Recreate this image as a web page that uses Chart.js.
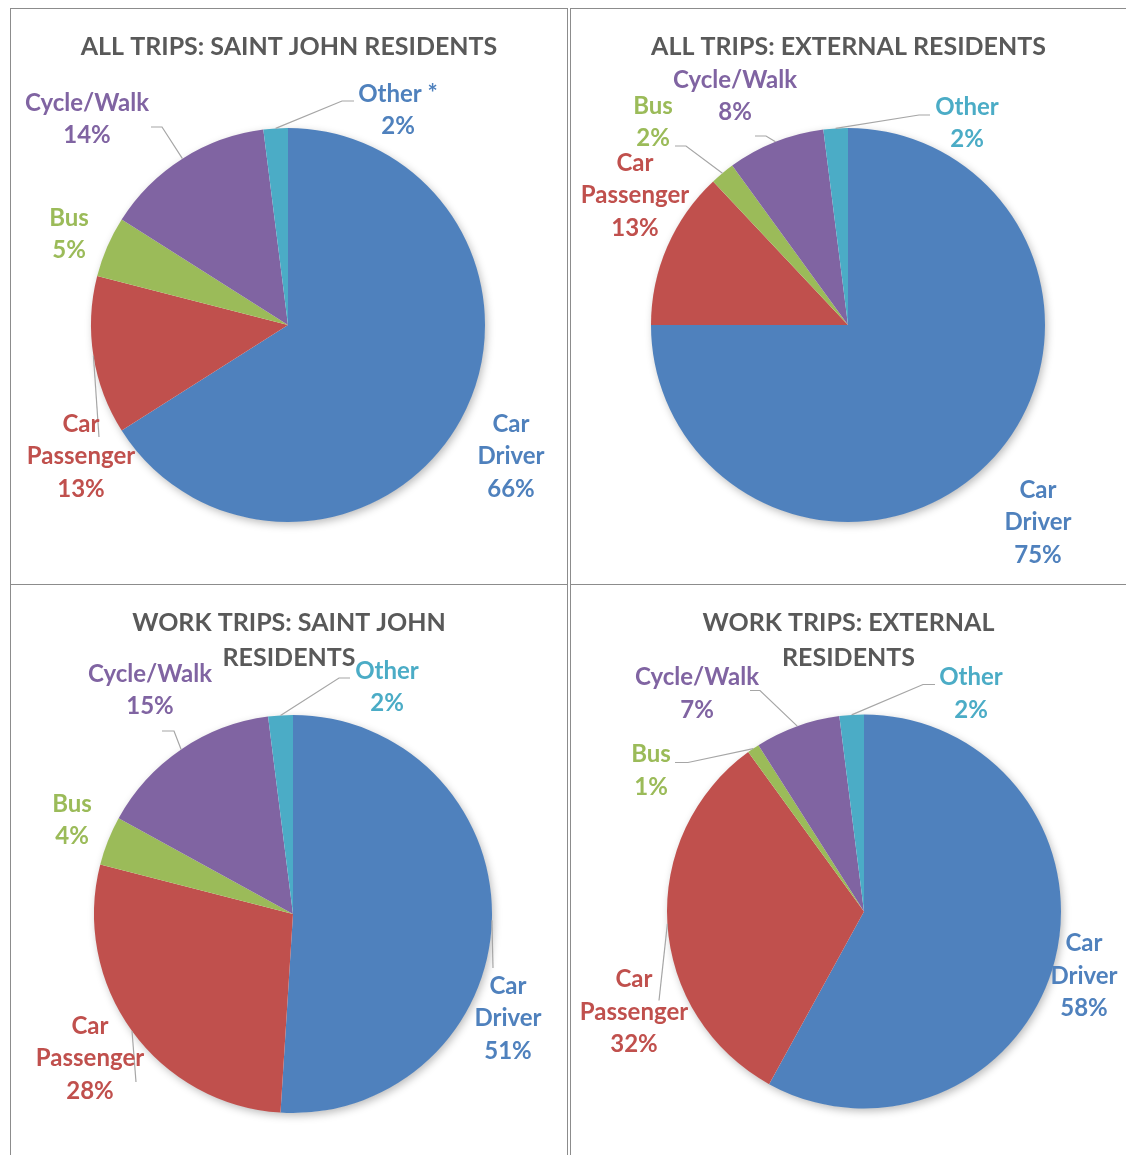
<!DOCTYPE html>
<html>
<head>
<meta charset="utf-8">
<title>Trip mode share</title>
<script src="https://cdn.jsdelivr.net/npm/chart.js@4.4.1/dist/chart.umd.min.js"></script>
<style>
  body { margin: 0; background: #fff; width: 1126px; height: 1155px; overflow: hidden; position: relative; }
  .panel { position: absolute; box-sizing: border-box; border: 1px solid #8c8c8c; background: #fff; }
  .panel canvas { display: block; }
</style>
</head>
<body>
<div class="panel" style="left:10px;top:8px;width:558px;height:577px"><canvas id="c0" width="556" height="575"></canvas></div>
<div class="panel" style="left:570px;top:8px;width:557px;height:577px"><canvas id="c1" width="555" height="575"></canvas></div>
<div class="panel" style="left:10px;top:584px;width:558px;height:572px"><canvas id="c2" width="556" height="570"></canvas></div>
<div class="panel" style="left:570px;top:584px;width:557px;height:572px"><canvas id="c3" width="555" height="570"></canvas></div>
<script>
// mode share data (percent)
const categories = ['Car Driver', 'Car Passenger', 'Bus', 'Cycle/Walk', 'Other'];
const allTripsSaintJohn = [66, 13, 5, 14, 2];
const allTripsExternal = [75, 13, 2, 8, 2];
const workTripsSaintJohn = [51, 28, 4, 15, 2];
const workTripsExternal = [58, 32, 1, 7, 2];
const chartTitles = [
  'ALL TRIPS: SAINT JOHN RESIDENTS',
  'ALL TRIPS: EXTERNAL RESIDENTS',
  ['WORK TRIPS: SAINT JOHN', 'RESIDENTS'],
  ['WORK TRIPS: EXTERNAL', 'RESIDENTS']
];

const sliceColors = ['#4F81BD', '#C0504D', '#9BBB59', '#8064A2', '#4BACC6'];
const FONT = 'Lato, "Open Sans", sans-serif';

// pie centre / radius in canvas px, label spots relative to the pie centre
const panels = [
  {
    canvas: 'c0', data: allTripsSaintJohn, cx: 277, cy: 316, r: 197,
    spots: [
      { at: [223, 99] },
      { at: [-207, 99], leader: [[-189, 112]] },
      { at: [-219, -107] },
      { at: [-201, -222], leader: [[-126, -198], [-137, -198]] },
      { at: [110, -231], leader: [[54, -224], [66, -224]], color: '#4F81BD', suffix: ' *' }
    ]
  },
  {
    canvas: 'c1', data: allTripsExternal, cx: 277, cy: 316, r: 197,
    spots: [
      { at: [190, 165] },
      { at: [-213, -162] },
      { at: [-195, -219], leader: [[-162, -179], [-173, -179]] },
      { at: [-113, -245], leader: [[-82, -189], [-93, -189]] },
      { at: [119, -218], leader: [[71, -210], [82, -210]] }
    ]
  },
  {
    canvas: 'c2', data: workTripsSaintJohn, cx: 282, cy: 329, r: 199,
    spots: [
      { at: [215, 72], leader: [[200, 54]] },
      { at: [-203, 112], leader: [[-157, 168]] },
      { at: [-221, -110] },
      { at: [-143, -240], leader: [[-119, -183], [-131, -183]] },
      { at: [94, -243], leader: [[46, -236], [57, -236]] }
    ]
  },
  {
    canvas: 'c3', data: workTripsExternal, cx: 293, cy: 326.5, r: 197,
    spots: [
      { at: [220, 32] },
      { at: [-230, 68], leader: [[-205, 89]] },
      { at: [-213, -157], leader: [[-176, -149], [-189, -149]] },
      { at: [-167, -234], leader: [[-104, -221], [-114, -221]] },
      { at: [107, -234], leader: [[59, -227], [71, -227]] }
    ]
  }
];

// put the pie where we want it, independent of the title block
const pieBox = {
  id: 'pieBox',
  afterLayout(chart, args, opts) {
    const a = chart.chartArea;
    a.left = opts.cx - opts.r;
    a.right = opts.cx + opts.r;
    a.top = opts.cy - opts.r;
    a.bottom = opts.cy + opts.r;
    a.width = opts.r * 2;
    a.height = opts.r * 2;
  },
  beforeDatasetsDraw(chart, args, opts) {
    // soft drop shadow under the whole pie
    const ctx = chart.ctx;
    ctx.save();
    ctx.shadowColor = 'rgba(0,0,0,0.28)';
    ctx.shadowBlur = 9;
    ctx.shadowOffsetX = 2;
    ctx.shadowOffsetY = 3;
    ctx.fillStyle = '#fff';
    ctx.beginPath();
    ctx.arc(opts.cx, opts.cy, opts.r - 0.5, 0, Math.PI * 2);
    ctx.fill();
    ctx.restore();
  }
};

const sliceLabels = {
  id: 'sliceLabels',
  afterDatasetsDraw(chart, args, opts) {
    const ctx = chart.ctx;
    const meta = chart.getDatasetMeta(0);
    const values = chart.data.datasets[0].data;
    ctx.save();
    ctx.font = 'bold 24px ' + FONT;
    ctx.textAlign = 'center';
    ctx.textBaseline = 'middle';
    meta.data.forEach((arc, i) => {
      const p = arc.getProps(['x', 'y', 'startAngle', 'endAngle', 'outerRadius'], true);
      const spot = opts.spots[i];
      const mid = (p.startAngle + p.endAngle) / 2;
      if (spot.leader) {
        ctx.strokeStyle = '#a6a6a6';
        ctx.lineWidth = 1.2;
        ctx.beginPath();
        ctx.moveTo(p.x + Math.cos(mid) * p.outerRadius, p.y + Math.sin(mid) * p.outerRadius);
        spot.leader.forEach(([dx, dy]) => ctx.lineTo(p.x + dx, p.y + dy));
        ctx.stroke();
      }
      const name = chart.data.labels[i];
      const lines = name.startsWith('Car ') ? name.split(' ') : [name + (spot.suffix || '')];
      lines.push(values[i] + '%');
      ctx.fillStyle = spot.color || sliceColors[i];
      lines.forEach((t, k) => ctx.fillText(t, p.x + spot.at[0], p.y + spot.at[1] + k * 32.5));
    });
    ctx.restore();
  }
};

panels.forEach((pn, idx) => {
  new Chart(document.getElementById(pn.canvas), {
    type: 'pie',
    data: {
      labels: categories,
      datasets: [{
        data: pn.data,
        backgroundColor: sliceColors,
        borderWidth: 0
      }]
    },
    options: {
      responsive: false,
      animation: false,
      plugins: {
        legend: { display: false },
        tooltip: { enabled: false },
        title: {
          display: true,
          text: chartTitles[idx],
          color: '#595959',
          font: { family: FONT, weight: 'bold', size: 25, lineHeight: '35px' },
          padding: { top: 20.5, bottom: 20 }
        },
        pieBox: { cx: pn.cx, cy: pn.cy, r: pn.r },
        sliceLabels: { spots: pn.spots }
      }
    },
    plugins: [pieBox, sliceLabels]
  });
});
</script>
</body>
</html>
